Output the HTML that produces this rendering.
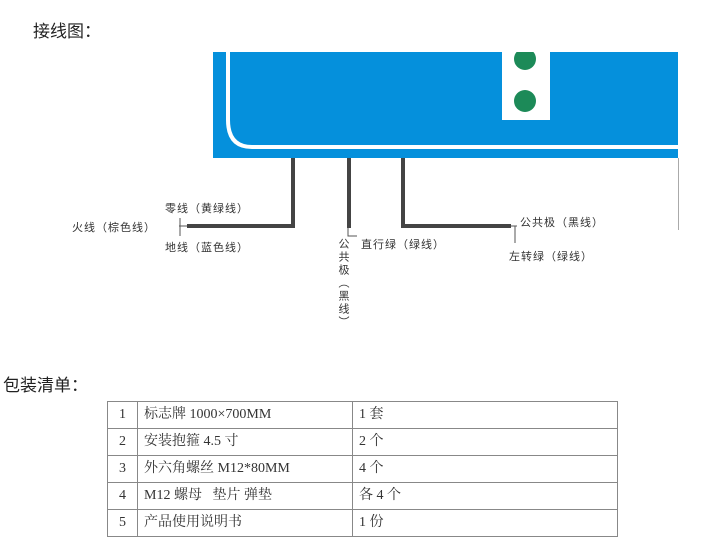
<!DOCTYPE html>
<html><head><meta charset="utf-8"><style>
body{margin:0;width:713px;height:547px;background:#fff;position:relative;overflow:hidden;font-family:"Liberation Sans","Noto Sans CJK SC",sans-serif;}
.a{position:absolute;white-space:nowrap}
.s{font-size:11px;color:#333;letter-spacing:1px}
table{position:absolute;left:107px;top:401px;border-collapse:collapse;font-family:"Liberation Serif","Noto Serif CJK SC",serif;font-size:14px;color:#333}
td{border:1px solid #888;height:26px;padding:0 0 0 6px;vertical-align:middle;line-height:16px}
</style></head><body>
<div class="a" style="left:33px;top:17px;font-size:17px;color:#222">接线图：</div>
<svg class="a" style="left:0;top:0" width="713" height="360">
<rect x="213" y="52" width="465" height="106" fill="#0590dc"/>
<path d="M228 52 V120 Q228 147 252 147 H678" fill="none" stroke="#fff" stroke-width="4"/>
<rect x="502" y="52" width="48" height="68" fill="#fff"/>
<circle cx="525" cy="59" r="11" fill="#1c8a58"/>
<rect x="500" y="30" width="60" height="22" fill="#fff"/>
<circle cx="525" cy="101" r="11" fill="#1c8a58"/>
<line x1="678.5" y1="158" x2="678.5" y2="230" stroke="#aaa" stroke-width="1"/>
<path d="M293 158 V226 H187" fill="none" stroke="#444" stroke-width="4"/>
<line x1="179" y1="226" x2="187" y2="226" stroke="#555"/>
<line x1="180" y1="218" x2="180" y2="236" stroke="#555"/>
<path d="M349 158 V228" fill="none" stroke="#444" stroke-width="4"/>
<path d="M348 228 V236 H357" fill="none" stroke="#555" stroke-width="1"/>
<path d="M403 158 V226 H511" fill="none" stroke="#444" stroke-width="4"/>
<line x1="511" y1="226" x2="517" y2="226" stroke="#555"/>
<line x1="515" y1="226" x2="515" y2="243" stroke="#555"/>
</svg>
<div class="a s" style="left:165px;top:200px">零线（黄绿线）</div>
<div class="a s" style="left:72px;top:219px">火线（棕色线）</div>
<div class="a s" style="left:165px;top:239px">地线（蓝色线）</div>
<div class="a s" style="left:337px;top:238px;writing-mode:vertical-rl;line-height:12px;letter-spacing:2px">公共极（黑线）</div>
<div class="a s" style="left:361px;top:236px">直行绿（绿线）</div>
<div class="a s" style="left:520px;top:214px">公共极（黑线）</div>
<div class="a s" style="left:509px;top:248px">左转绿（绿线）</div>
<div class="a" style="left:3px;top:371px;font-size:17px;color:#222">包装清单：</div>
<table>
<tr><td style="width:29px;text-align:center;padding:0">1</td><td style="width:208px">标志牌 1000×700MM</td><td style="width:258px">1 套</td></tr>
<tr><td style="text-align:center;padding:0">2</td><td>安装抱箍 4.5 寸</td><td>2 个</td></tr>
<tr><td style="text-align:center;padding:0">3</td><td>外六角螺丝 M12*80MM</td><td>4 个</td></tr>
<tr><td style="text-align:center;padding:0">4</td><td>M12 螺母&nbsp;&nbsp; 垫片 弹垫</td><td>各 4 个</td></tr>
<tr><td style="text-align:center;padding:0">5</td><td>产品使用说明书</td><td>1 份</td></tr>
</table>
</body></html>
